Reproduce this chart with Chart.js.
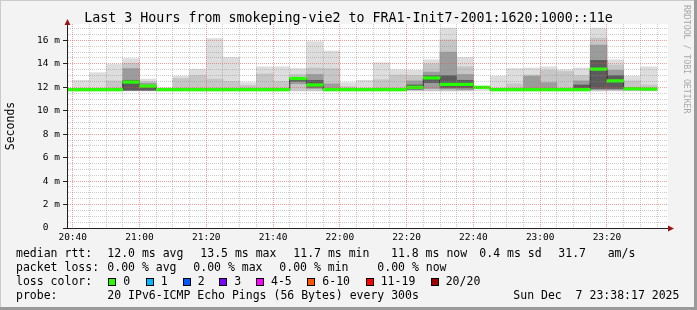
<!DOCTYPE html>
<html>
<head>
<meta charset="utf-8">
<script src="https://cdn.jsdelivr.net/npm/chart.js@4.4.1/dist/chart.umd.min.js"></script>
<style>
html, body { margin: 0; padding: 0; background: #f3f3f3; }
canvas { display: block; }
</style>
</head>
<body>
<canvas id="graph" width="697" height="310"></canvas>
<script>
const FONT = "'DejaVu Sans Mono', monospace";

const title = 'Last 3 Hours from smokeping-vie2 to FRA1-Init7-2001:1620:1000::11e';
const xTickLabels = ['20:40', '21:00', '21:20', '21:40', '22:00', '22:20', '22:40', '23:00', '23:20'];
const yTickLabels = ['0', '2 m', '4 m', '6 m', '8 m', '10 m', '12 m', '14 m', '16 m'];

// 5 minute bins (start time)
const bins = ['20:35', '20:40', '20:45', '20:50', '20:55',
	'21:00', '21:05', '21:10', '21:15', '21:20', '21:25', '21:30', '21:35', '21:40', '21:45', '21:50', '21:55',
	'22:00', '22:05', '22:10', '22:15', '22:20', '22:25', '22:30', '22:35', '22:40', '22:45', '22:50', '22:55',
	'23:00', '23:05', '23:10', '23:15', '23:20', '23:25', '23:30'];

// median rtt in ms
const median = [11.8, 11.8, 11.8, 11.8, 12.45, 12.1, 11.8, 11.8, 11.8, 11.8, 11.8, 11.8,
	11.8, 11.8, 12.75, 12.2, 11.8, 11.8, 11.8, 11.8, 11.8, 12.0, 12.8, 12.25,
	12.25, 12.0, 11.8, 11.8, 11.8, 11.8, 11.8, 11.8, 13.55, 12.55, 11.88, 11.85];

// smoke: outer band (min..max of the pings)
const smokeLow = [null, 11.7, 11.7, 11.7, 11.7, 11.7, 11.7, 11.7, 11.7, 11.7, 11.7, 11.7,
	11.7, 11.7, 11.7, 11.7, 11.7, 11.7, 11.7, 11.7, 11.7, 11.7, 11.7, 11.7,
	11.7, 11.7, 11.7, 11.7, 11.7, 11.7, 11.7, 11.7, 11.7, 11.7, 11.7, 11.7];
const smokeHigh = [null, 12.6, 13.25, 13.95, 14.45, 12.7, 11.95, 12.95, 13.55, 16.15, 14.55, 12.4,
	13.75, 13.75, 13.6, 15.9, 15.1, 12.4, 12.6, 14.1, 13.5, 13.45, 14.35, 17.05,
	14.55, 12.05, 12.95, 13.6, 13.65, 13.75, 13.5, 13.65, 17.05, 14.35, 12.95, 13.75];
// second band
const band2High = [null, 11.9, 11.9, 12.55, 14.05, 12.5, null, 12.75, 13.0, 12.7, 12.5, 12.15,
	13.15, 12.5, 13.1, 13.65, 13.6, 12.05, 11.9, 12.65, 13.05, 13.0, 14.0, 16.05,
	13.75, null, 11.9, 12.3, 13.05, 13.45, 13.35, 13.0, 16.2, 13.9, 12.55, 12.2];
// third band
const band3Low = [null, null, null, null, 11.75, 11.75, null, null, null, null, null, null,
	null, null, 12.3, 11.9, 11.75, null, null, null, null, 11.8, 11.9, 11.85,
	11.8, null, null, null, 11.8, 11.8, null, 11.8, 11.8, 11.8, null, null];
const band3High = [null, null, null, null, 13.6, 12.35, null, null, null, null, null, null,
	null, null, 12.8, 13.1, 12.3, null, null, null, null, 12.55, 13.3, 15.0,
	13.1, null, null, null, 12.95, 12.4, null, 12.55, 15.6, 13.45, null, null];
// inner band
const band4Low = [null, null, null, null, 11.75, 11.75, null, null, null, null, null, null,
	null, null, 12.5, 12.0, null, null, null, null, null, 11.85, 12.4, 11.95,
	11.95, null, null, null, null, null, null, 11.8, 11.9, 11.9, null, null];
const band4High = [null, null, null, null, 12.6, 12.0, null, null, null, null, null, null,
	null, null, 12.75, 12.6, null, null, null, null, null, 12.2, 13.0, 13.0,
	12.6, null, null, null, null, null, null, 12.2, 14.3, 13.0, null, null];

// legend texts
const rttStats = ['12.0 ms avg', '13.5 ms max', '11.7 ms min', '11.8 ms now', '0.4 ms sd', '31.7', 'am/s'];
const lossStats = ['0.00 % avg', '0.00 % max', '0.00 % min', '0.00 % now'];
const lossLabels = ['0', '1', '2', '3', '4-5', '6-10', '11-19', '20/20'];
const lossColors = ['#26ff00', '#00b8ff', '#0059ff', '#7e00ff', '#ff00ff', '#ff5500', '#ff0000', '#a10000'];
const probeText = '20 IPv6-ICMP Echo Pings (56 Bytes) every 300s';
const dateText = 'Sun Dec  7 23:38:17 2025';

const toMin = t => { const [h, m] = t.split(':').map(Number); return (h - 20) * 60 + m; };
const binStart = bins.map(toMin);
const STEP = 5;
const viewMin = 38 + 17 / 60;
const viewMax = 218 + 17 / 60;

function floating(lo, hi) {
	const out = [];
	bins.forEach((b, i) => {
		if (lo[i] == null || hi[i] == null) return;
		out.push({ x: binStart[i] + STEP / 2, y: [lo[i], hi[i]] });
	});
	return out;
}

const greenHalf = 0.11;
const medianBand = bins.map((b, i) => ({ x: binStart[i] + STEP / 2, y: [median[i] - greenHalf, median[i] + greenHalf] }));
const medianLine = bins.map((b, i) => ({ x: binStart[i], y: median[i] }));
medianLine.push({ x: binStart[bins.length - 1] + STEP, y: median[median.length - 1] });

const majorGrid = 'rgba(230, 80, 80, 0.55)';
const minorGrid = 'rgba(140, 140, 140, 0.45)';

const backgroundPlugin = {
	id: 'rrdBack',
	beforeDraw(chart) {
		const { ctx, chartArea: a, width, height } = chart;
		ctx.save();
		ctx.fillStyle = '#f3f3f3';
		ctx.fillRect(0, 0, width, height);
		ctx.fillStyle = '#cbcbcb';
		ctx.fillRect(0, 0, width, 1);
		ctx.fillRect(0, 0, 1, height);
		ctx.fillStyle = '#9a9a9a';
		ctx.fillRect(width - 3, 0, 3, height);
		ctx.fillRect(0, height - 3, width, 3);
		ctx.fillStyle = '#ffffff';
		ctx.fillRect(a.left, a.top, a.right - a.left, a.bottom - a.top);
		ctx.restore();
	}
};

const decorPlugin = {
	id: 'rrdDecor',
	afterDraw(chart) {
		const { ctx, chartArea: a } = chart;
		ctx.save();
		// axis extensions and arrows
		ctx.strokeStyle = '#222';
		ctx.lineWidth = 1;
		ctx.beginPath();
		ctx.moveTo(a.left + 0.5, a.top);
		ctx.lineTo(a.left + 0.5, a.top - 3);
		ctx.moveTo(a.left - 4, a.bottom + 0.5);
		ctx.lineTo(a.left, a.bottom + 0.5);
		ctx.moveTo(a.right, a.bottom + 0.5);
		ctx.lineTo(a.right + 3, a.bottom + 0.5);
		ctx.stroke();
		ctx.fillStyle = '#9a1515';
		ctx.beginPath();
		ctx.moveTo(a.left + 0.5, a.top - 5);
		ctx.lineTo(a.left - 2.5, a.top + 1);
		ctx.lineTo(a.left + 3.5, a.top + 1);
		ctx.closePath();
		ctx.fill();
		ctx.beginPath();
		ctx.moveTo(a.right + 6, a.bottom + 0.5);
		ctx.lineTo(a.right, a.bottom - 2.5);
		ctx.lineTo(a.right, a.bottom + 3.5);
		ctx.closePath();
		ctx.fill();

		// title
		ctx.fillStyle = '#000';
		ctx.textBaseline = 'middle';
		ctx.textAlign = 'center';
		ctx.font = '13.3px ' + FONT;
		ctx.fillText(title, 348.5, 19);

		// watermark
		ctx.save();
		ctx.translate(686.5, 5);
		ctx.rotate(Math.PI / 2);
		ctx.textAlign = 'left';
		ctx.fillStyle = '#a8a8a8';
		ctx.font = '8.2px ' + FONT;
		ctx.fillText('RRDTOOL / TOBI OETIKER', 0, 0);
		ctx.restore();

		// legend
		ctx.textAlign = 'left';
		ctx.font = '11.5px ' + FONT;
		ctx.fillStyle = '#000';
		const r1 = 254, r2 = 268, r3 = 282, r4 = 296;
		ctx.fillText('median rtt:', 16, r1);
		[107.3, 200.3, 293.3, 391, 479.3, 558.3, 607.7].forEach((x, i) => ctx.fillText(rttStats[i], x, r1));
		ctx.fillText('packet loss:', 16, r2);
		[107.3, 193.3, 279.3, 377.3].forEach((x, i) => ctx.fillText(lossStats[i], x, r2));
		ctx.fillText('loss color:', 16, r3);
		const boxX = [108.3, 145.7, 182.7, 219.3, 256, 307.3, 365.7, 430.7];
		boxX.forEach((x, i) => {
			const bx = Math.round(x);
			ctx.fillStyle = lossColors[i];
			ctx.fillRect(bx, 278, 8, 8);
			ctx.strokeStyle = '#000';
			ctx.strokeRect(bx + 0.5, 278.5, 7, 7);
			ctx.fillStyle = '#000';
			ctx.fillText(lossLabels[i], x + 15, r3);
		});
		ctx.fillText('probe:', 16, r4);
		ctx.fillText(probeText, 107.3, r4);
		ctx.fillText(dateText, 513.3, r4);
		ctx.restore();
	}
};

function xTicks(scale) {
	const t = [];
	for (let v = Math.ceil(viewMin / STEP) * STEP; v < viewMax; v += STEP) t.push({ value: v });
	scale.ticks = t;
}
function yTicks(scale) {
	const t = [];
	for (let v = 0; v <= 17; v += 0.5) t.push({ value: v });
	scale.ticks = t;
}
const xMajor = xTickLabels.map(toMin);
const fmtX = v => { const i = xMajor.indexOf(v); return i >= 0 ? xTickLabels[i] : ''; };
const fmtY = v => {
	if (v % 2 !== 0) return '';
	const l = yTickLabels[v / 2];
	if (!l) return '';
	return l.includes('m') ? l : l + '  ';
};

const ctx = document.getElementById('graph').getContext('2d');
new Chart(ctx, {
	type: 'bar',
	data: {
		datasets: [
			{ type: 'bar', data: medianBand, backgroundColor: '#26ff00', order: 0 },
			{ type: 'line', data: medianLine, stepped: 'before', borderColor: '#202020', borderWidth: 1, pointRadius: 0, fill: false, order: 1 },
			{ type: 'bar', data: floating(band4Low, band4High), backgroundColor: '#5c5c5c', order: 2 },
			{ type: 'bar', data: floating(band3Low, band3High), backgroundColor: '#9c9c9c', order: 3 },
			{ type: 'bar', data: floating(smokeLow, band2High), backgroundColor: '#c6c6c6', order: 4 },
			{ type: 'bar', data: floating(smokeLow, smokeHigh), backgroundColor: '#dddddd', order: 5 }
		]
	},
	options: {
		responsive: false,
		animation: false,
		devicePixelRatio: 1,
		layout: { padding: { left: 0, top: 24, right: 29, bottom: 0 } },
		plugins: {
			legend: { display: false },
			tooltip: { enabled: false },
			title: { display: false }
		},
		datasets: {
			bar: { grouped: false, barPercentage: 1, categoryPercentage: 1, borderWidth: 0 }
		},
		scales: {
			x: {
				type: 'linear',
				min: viewMin,
				max: viewMax,
				offset: false,
				afterBuildTicks: xTicks,
				afterFit: s => { s.height = 82; s.paddingLeft = 0; s.paddingRight = 0; },
				grid: {
					offset: false,
					z: 1,
					drawTicks: false,
					color: c => xMajor.includes(c.tick && c.tick.value) ? majorGrid : minorGrid
				},
				border: { color: '#222', width: 1, dash: [1, 1], z: 1 },
				ticks: {
					autoSkip: false,
					maxRotation: 0,
					padding: 4,
					color: '#000',
					font: { family: FONT, size: 9.5 },
					callback: v => fmtX(v)
				}
			},
			y: {
				type: 'linear',
				min: 0,
				max: 17.4,
				afterBuildTicks: yTicks,
				afterFit: s => { s.width = 67; s.paddingTop = 0; s.paddingBottom = 0; },
				grid: {
					z: 1,
					tickLength: 4,
					tickColor: c => (c.tick && c.tick.value % 2 === 0) ? '#222' : 'rgba(0,0,0,0)',
					color: c => {
						const v = c.tick && c.tick.value;
						if (v === 0) return 'rgba(0,0,0,0)';
						return v % 2 === 0 ? majorGrid : minorGrid;
					}
				},
				border: { color: '#222', width: 1, dash: [1, 1], z: 1 },
				title: {
					display: true,
					text: 'Seconds',
					color: '#000',
					font: { family: FONT, size: 11.5 },
					padding: { top: 4, bottom: 0 }
				},
				ticks: {
					autoSkip: false,
					padding: 3,
					color: '#000',
					font: { family: FONT, size: 9.5 },
					callback: v => fmtY(v)
				}
			}
		}
	},
	plugins: [backgroundPlugin, decorPlugin]
});
</script>
</body>
</html>
